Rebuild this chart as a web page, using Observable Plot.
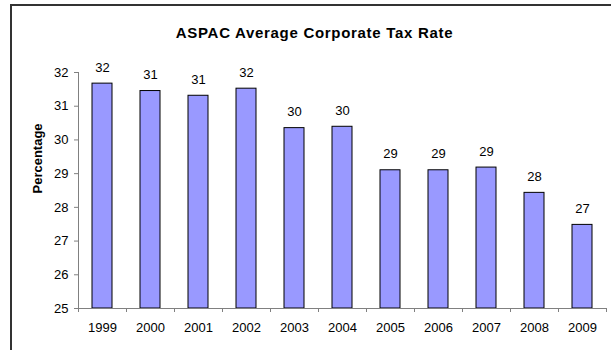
<!DOCTYPE html>
<html><head><meta charset="utf-8">
<script src="https://cdn.jsdelivr.net/npm/d3@7"></script>
<script src="https://cdn.jsdelivr.net/npm/@observablehq/plot@0.6"></script>
<style>
body{margin:0;background:#fff;}
#wrap{position:relative;width:611px;height:350px;overflow:hidden;background:#fff;}
#border{position:absolute;left:10px;top:4px;width:601px;height:346px;border-top:2px solid #333;border-left:2px solid #333;box-sizing:border-box;pointer-events:none;}
</style></head><body>
<div id="wrap"><div id="chart"></div><div id="border"></div></div>
<script>
const years = ["1999","2000","2001","2002","2003","2004","2005","2006","2007","2008","2009"];
const rates = [31.67, 31.45, 31.31, 31.52, 30.35, 30.39, 29.10, 29.10, 29.18, 28.43, 27.48];
const yTicks = [25, 26, 27, 28, 29, 30, 31, 32];
const title = "ASPAC Average Corporate Tax Rate";
const yLabel = "Percentage";

const data = years.map((year, i) => ({year, rate: rates[i]}));
const W = 611, H = 350, mL = 78, mR = 5, mT = 72, mB = 42;
const step = (W - mL - mR) / years.length;

const chart = Plot.plot({
  width: W, height: H,
  marginLeft: mL, marginRight: mR, marginTop: mT, marginBottom: mB,
  style: {fontFamily: "'Liberation Sans', Arial, sans-serif", fontSize: "13px", color: "#000", background: "transparent", overflow: "visible"},
  x: {domain: years, paddingInner: 0.58, paddingOuter: 0.29, label: null},
  y: {domain: [25, 32], label: null},
  marks: [
    Plot.barY(data, {x: "year", y1: 25, y2: "rate", fill: "#9999FF", stroke: "#000", strokeWidth: 1}),
    Plot.ruleY([25], {stroke: "#808080"}),
    Plot.frame({anchor: "left", stroke: "#808080"}),
    Plot.axisY({ticks: yTicks, tickSize: 4, tickPadding: 6, stroke: "#808080", fill: "#000", label: null, tickFormat: d => String(d)}),
    Plot.axisX({tickSize: 0, tickPadding: 14, label: null, fill: "#000"}),
    Plot.axisX({text: null, tickSize: 4, dx: -step / 2, stroke: "#808080", label: null}),
    Plot.axisX({ticks: [years[years.length - 1]], text: null, tickSize: 4, dx: step / 2, stroke: "#808080", label: null}),
    Plot.text(data, {x: "year", y: "rate", text: d => String(Math.round(d.rate)), dy: -16, fill: "#000"}),
    Plot.text([title], {frameAnchor: "top", dx: -28, dy: -45, fontWeight: "bold", fontSize: 15, fill: "#000"}),
    Plot.text([yLabel], {frameAnchor: "left", dx: -41, dy: 3, rotate: -90, fontWeight: "bold", fill: "#000"})
  ]
});
document.getElementById("chart").appendChild(chart);
d3.select(chart).selectAll("text").filter(function() { return this.textContent === title; }).attr("letter-spacing", "0.7px");
</script>
</body></html>
